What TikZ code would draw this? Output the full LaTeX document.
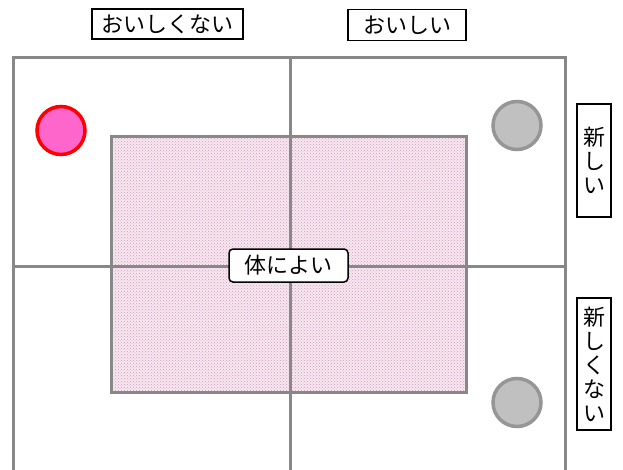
\documentclass[tikz,border=0pt]{standalone}
\usepackage{fontspec}
\setmainfont{Noto Sans CJK JP}
\usetikzlibrary{patterns}
\definecolor{gridgray}{RGB}{136,136,136}
\definecolor{dotpink}{RGB}{246,232,240}
\definecolor{dotdark}{RGB}{215,150,190}
\definecolor{circgray}{RGB}{192,192,192}
\definecolor{circedge}{RGB}{150,150,150}
\definecolor{hotpink}{RGB}{255,102,204}
\tikzset{
  gridline/.style={draw=gridgray, line width=3pt},
  labelbox/.style={draw=black, line width=1.5pt, fill=white, inner sep=0pt, font=\fontsize{22}{24}\selectfont},
  vlabel/.style={labelbox, align=center, minimum width=34pt, font=\fontsize{22}{24}\selectfont},
  graydot/.style={circle, draw=circedge, line width=3.5pt, fill=circgray, minimum size=48pt, inner sep=0pt},
  reddot/.style={circle, draw=red, line width=3.5pt, fill=hotpink, minimum size=48pt, inner sep=0pt}
}
\begin{document}
\begin{tikzpicture}[x=1pt,y=-1pt]
\useasboundingbox (0,0) rectangle (623,470);
\fill[white] (0,0) rectangle (623,470);
% pattern rectangle
\fill[dotpink] (111,137) rectangle (466,392);
\fill[pattern=crosshatch dots, pattern color=dotdark] (111,137) rectangle (466,392);
% grid
\draw[gridline] (13,470) -- (13,58) -- (565,58) -- (565,470);
\draw[gridline] (290,58) -- (290,470);
\draw[gridline] (13,266) -- (565,266);
\draw[gridline] (111,137) rectangle (466,392);
% labels
\node[labelbox, minimum width=151pt, minimum height=30pt] (notgood) at (167.5,24) {おいしくない};
\node[labelbox, minimum width=118pt, minimum height=31pt] (good) at (407,25) {おいしい};
\node[vlabel, minimum height=113pt] (new) at (594,160.5) {新\\し\\い};
\node[vlabel, minimum height=132pt] (notnew) at (594,364) {新\\し\\く\\な\\い};
\node[labelbox, rounded corners=4pt, minimum width=119pt, minimum height=33pt] (health) at (288.5,265.5) {体によい};
% circles
\node[reddot] (red) at (61,130.5) {};
\node[graydot] (g1) at (517,125.5) {};
\node[graydot] (g2) at (517,402.5) {};
\end{tikzpicture}
\end{document}
